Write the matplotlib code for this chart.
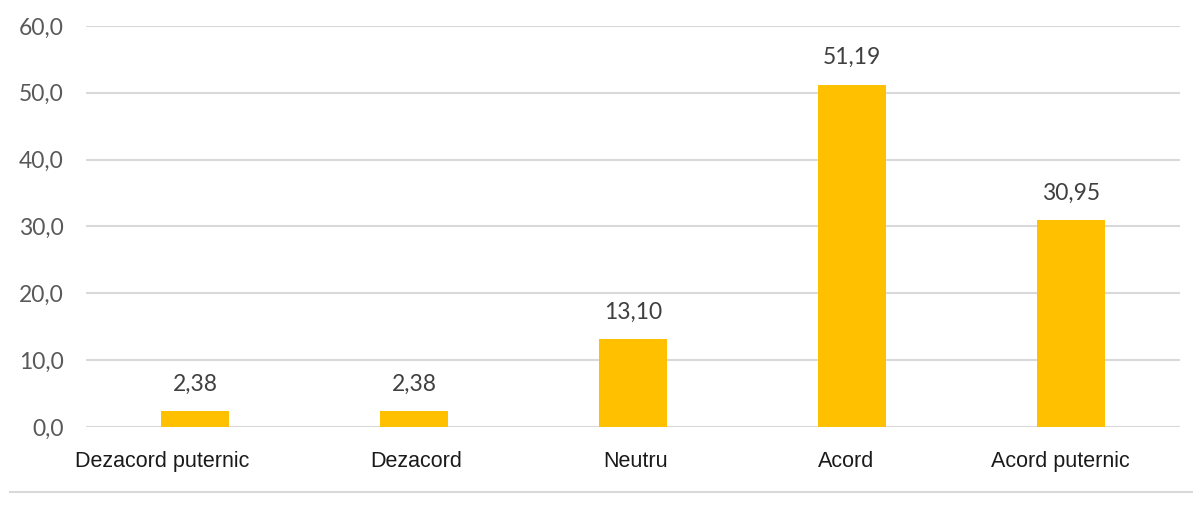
import matplotlib.pyplot as plt
from matplotlib import font_manager
from matplotlib.lines import Line2D
from matplotlib.transforms import ScaledTranslation

categories = ['Dezacord puternic', 'Dezacord', 'Neutru', 'Acord', 'Acord puternic']
values = [2.38, 2.38, 13.10, 51.19, 30.95]
y_ticks = [0, 10, 20, 30, 40, 50, 60]

installed = {f.name for f in font_manager.fontManager.ttflist}
num_font = 'Lato' if 'Lato' in installed else 'DejaVu Sans'
cat_font = 'Liberation Sans'

fig = plt.figure(figsize=(11.93, 5.07), dpi=100)
ax = fig.add_axes([86 / 1193, 1 - 427 / 507, (1180 - 86) / 1193, (427 - 26) / 507])

x = range(len(categories))
ax.bar(x, values, width=0.31, color='#FFC000', zorder=3)

for xi, v in zip(x, values):
    ax.annotate(f'{v:.2f}'.replace('.', ','), (xi, v), xytext=(0, 12), textcoords='offset points',
                ha='center', va='bottom', fontsize=16.5, color='#404040', family=num_font)

ax.set_xlim(-0.5, len(categories) - 0.5)
ax.set_ylim(0, 60)
ax.set_yticks(y_ticks)
ax.set_yticklabels([f'{t:.1f}'.replace('.', ',') for t in y_ticks], family=num_font,
                   fontsize=16.5, color='#595959')
ax.set_xticks(list(x))
ax.set_xticklabels(categories, family=cat_font, fontsize=15.5, color='#1a1a1a')
ax.tick_params(axis='y', length=0, pad=16)
ax.tick_params(axis='x', length=0, pad=17)

# the category labels in the original sit slightly off their bars
shift_px = [-33, 2, 3, -6, -10]
for lab, dx in zip(ax.get_xticklabels(), shift_px):
    lab.set_transform(lab.get_transform() + ScaledTranslation(dx / 100, 0, fig.dpi_scale_trans))

ax.grid(axis='y', color='#D9D9D9', linewidth=1.5, zorder=0)
for s in ax.spines.values():
    s.set_visible(False)

# bottom separator line of the chart area
fig.add_artist(Line2D([10 / 1193, 1.0], [1 - 492 / 507] * 2, color='#D9D9D9', linewidth=1.5))

fig.savefig('out.png', dpi=100)
